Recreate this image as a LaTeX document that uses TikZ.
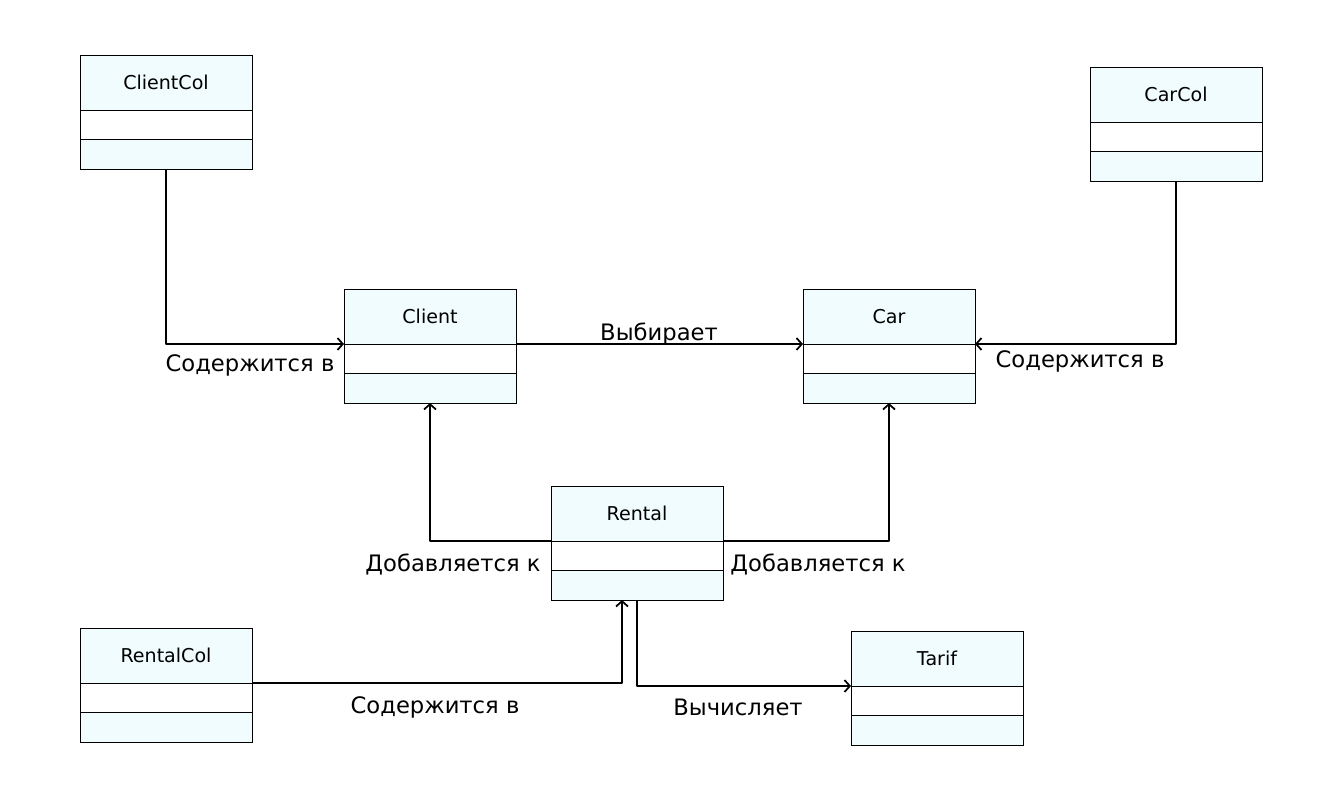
\documentclass[tikz,border=0pt]{standalone}
\usepackage{fontspec}
\setmainfont{DejaVu Sans}
\usetikzlibrary{arrows.meta}
\definecolor{boxfill}{HTML}{F0FCFD}
\tikzset{
  umlfull/.style={draw=black, line width=0.7pt, fill=white, minimum width=129pt, minimum height=85.5pt, inner sep=0pt, outer sep=0pt, anchor=north west},
  umltitle/.style={draw=black, line width=0.7pt, fill=boxfill, minimum width=129pt, minimum height=41.25pt, inner sep=0pt, outer sep=0pt, font=\fontsize{14.3pt}{16pt}\selectfont},
  umlmid/.style={draw=black, line width=0.7pt, fill=white, minimum width=129pt, minimum height=22.125pt, inner sep=0pt, outer sep=0pt},
  umlbot/.style={draw=black, line width=0.7pt, fill=boxfill, minimum width=129pt, minimum height=22.125pt, inner sep=0pt, outer sep=0pt},
  conn/.style={draw=black, line width=1.5pt, line join=round, -{Straight Barb[length=4pt, width=9pt, line width=1.3pt]}},
  lbl/.style={font=\fontsize{17pt}{19pt}\selectfont, inner sep=0pt}
}
\newcommand\umlbox[4]{%
  \node[umlfull] (#1) at (#2,#3) {};
  \node[umltitle, anchor=north] (#1-t) at (#1.north) {#4};
  \node[umlmid, anchor=north] (#1-m) at (#1-t.south) {};
  \node[umlbot, anchor=north] (#1-b) at (#1-m.south) {};
}
\begin{document}
\begin{tikzpicture}[x=0.75pt, y=-0.75pt]
\fill[white] (0,0) rectangle (1343,804);
\useasboundingbox (0,0) rectangle (1343,804);

\umlbox{clientcol}{80}{55}{ClientCol}
\umlbox{carcol}{1090}{67}{CarCol}
\umlbox{client}{344}{289}{Client}
\umlbox{car}{803}{289}{Car}
\umlbox{rental}{551}{486}{Rental}
\umlbox{rentalcol}{80}{628}{RentalCol}
\umlbox{tarif}{851}{631}{Tarif}

% ClientCol -> Client
\draw[conn] (clientcol.south) |- (client-t.south west);
\node[lbl] (l1) at (250,365) {Содержится в};
% Client -> Car
\draw[conn] (client-t.south east) -- (car-t.south west);
\node[lbl] (l2) at (659,334) {Выбирает};
% CarCol -> Car
\draw[conn] (carcol.south) |- (car-t.south east);
\node[lbl] (l3) at (1080,361) {Содержится в};
% Rental -> Client
\draw[conn] (rental-t.south west) -| (client.south);
\node[lbl] (l4) at (453,564) {Добавляется к};
% Rental -> Car
\draw[conn] (rental-t.south east) -| (car.south);
\node[lbl] (l5) at (818,564) {Добавляется к};
% RentalCol -> Rental
\draw[conn] (rentalcol-t.south east) -| ([xshift=-11.25pt]rental.south);
\node[lbl] (l6) at (435,707) {Содержится в};
% Rental -> Tarif
\draw[conn] (rental.south) |- (tarif-t.south west);
\node[lbl] (l7) at (738,707) {Вычисляет};
\end{tikzpicture}
\end{document}
